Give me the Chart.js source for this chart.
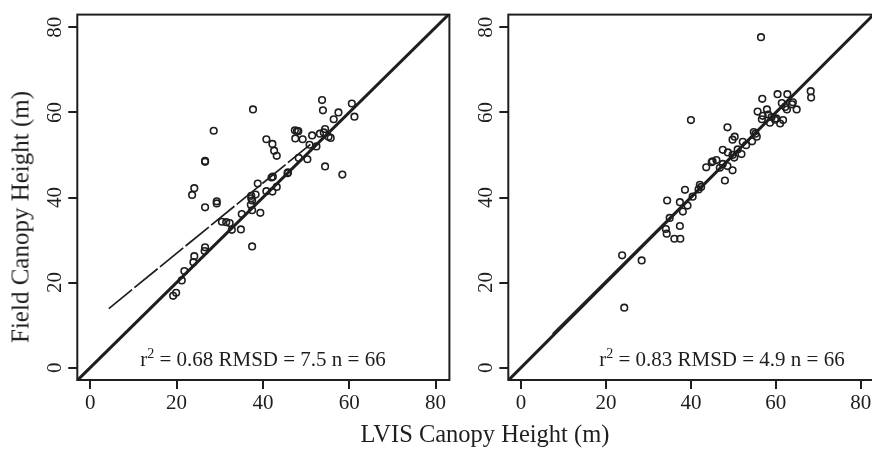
<!DOCTYPE html>
<html>
<head>
<meta charset="utf-8">
<script src="https://cdn.jsdelivr.net/npm/chart.js@4.4.1/dist/chart.umd.min.js"></script>
<style>
  html, body { margin: 0; padding: 0; background: #fff; }
  body { width: 872px; height: 449px; overflow: hidden; position: relative; font-family: "Liberation Serif", serif; color: #1e1e1e; }
  .panel { position: absolute; top: 0; height: 449px; }
  #leftPanel { left: 0; width: 460px; }
  #rightPanel { left: 460px; width: 420px; }
  .title { position: absolute; white-space: nowrap; line-height: 1; }
  #xTitle { left: 485px; top: 422px; font-size: 24.5px; transform: translateX(-50%); }
  #yTitle { left: 20px; top: 217px; font-size: 25px; transform: translate(-50%, -50%) rotate(-90deg); }
</style>
</head>
<body>
<div class="panel" id="leftPanel"><canvas id="chart_leftCanopy"></canvas></div>
<div class="panel" id="rightPanel"><canvas id="chart_rightCanopy"></canvas></div>
<div class="title" id="xTitle">LVIS Canopy Height (m)</div>
<div class="title" id="yTitle">Field Canopy Height (m)</div>
<script>
// axis ticks
var tickValues = [0, 20, 40, 60, 80];

// left panel: LVIS vs field heights
var leftLvis = [
  53.7, 53.9, 37.7, 60.6, 61.2, 57.5, 56.4, 28.6, 47.4, 47.9, 48.2, 47.5, 49.2, 51.4, 53.2, 54.4, 54.1,
  55.2, 55.7, 50.8, 52.4, 40.8, 42.2, 42.6, 43.2, 50.3, 48.3, 54.4, 58.4, 26.6, 26.6, 45.7, 45.8, 42.0,
  42.3, 38.8, 24.1, 23.6, 40.8, 43.2, 42.2, 38.3, 37.3, 37.3, 29.3, 29.3, 26.6, 37.5, 37.2, 37.5, 39.4,
  35.1, 30.5, 31.5, 32.3, 32.8, 34.9, 37.5, 26.6, 26.5, 24.1, 23.9, 21.8, 21.2, 19.9, 19.2
];
var leftField = [
  62.9, 60.5, 60.7, 62.1, 59.0, 60.0, 58.4, 55.7, 55.8, 55.7, 55.6, 53.9, 53.7, 54.6, 55.0, 56.1, 55.3,
  54.3, 54.0, 52.4, 52.0, 53.7, 52.6, 51.0, 49.8, 49.0, 49.3, 47.3, 45.4, 48.6, 48.4, 45.7, 45.9, 44.7,
  44.9, 43.3, 42.2, 40.6, 41.5, 42.5, 41.4, 40.7, 40.4, 39.8, 39.1, 38.6, 37.7, 39.3, 38.3, 37.0, 36.4,
  36.1, 34.3, 34.2, 34.0, 32.4, 32.5, 28.5, 28.3, 27.4, 26.2, 24.8, 22.7, 20.5, 17.6, 16.9
];
var leftFitX = [4.3, 51.0];
var leftFitY = [13.9, 52.5];

// right panel
var rightLvis = [
  56.5, 40.0, 60.4, 62.7, 68.2, 68.3, 56.8, 61.4, 64.0, 57.9, 55.7, 62.6, 64.9, 56.9, 56.7, 59.0, 59.8,
  58.6, 61.0, 61.7, 63.8, 48.6, 54.8, 55.5, 54.4, 50.3, 49.8, 52.2, 47.5, 48.7, 49.8, 51.0, 51.9, 50.2,
  43.6, 45.1, 46.0, 47.5, 48.6, 49.8, 48.0, 42.1, 41.8, 38.6, 40.4, 34.4, 37.4, 39.2, 38.1, 34.1, 34.3,
  37.4, 36.1, 37.5, 23.8, 28.4, 24.3, 44.9, 53.0, 55.2, 58.2, 60.1, 62.2, 46.8, 42.4, 35.0
];
var rightField = [
  77.7, 58.2, 64.3, 64.3, 65.0, 63.5, 63.2, 62.2, 62.4, 60.7, 60.2, 60.7, 60.7, 59.2, 58.4, 58.9, 58.3,
  57.6, 57.4, 58.2, 61.9, 56.5, 55.4, 54.3, 53.2, 54.3, 53.6, 53.1, 51.2, 50.6, 50.0, 51.3, 50.2, 49.4,
  47.1, 48.5, 48.8, 47.9, 47.4, 46.4, 44.0, 43.0, 41.9, 41.8, 40.2, 39.3, 38.9, 38.1, 36.7, 32.6, 31.5,
  33.3, 30.3, 30.3, 26.4, 25.2, 14.1, 48.3, 52.3, 55.0, 59.5, 58.6, 61.3, 47.0, 42.5, 35.2
];
var rightFitX = [7.4, 68.3];
var rightFitY = [8.0, 68.3];

// 1:1 line ends and fit statistics
var oneToOne = [-3, 83.2];
var statR2 = [0.68, 0.83];
var statRmsd = [7.5, 4.9];
var statN = [66, 66];

var ink = '#1e1e1e';
var serif = 'Liberation Serif';

function pairs(xs, ys) {
  return xs.map(function (x, i) { return { x: x, y: ys[i] }; });
}

var framePlugin = {
  id: 'frame',
  afterDatasetsDraw: function (chart) {
    var a = chart.chartArea;
    var ctx = chart.ctx;
    ctx.save();
    ctx.strokeStyle = ink;
    ctx.lineWidth = 2;
    ctx.strokeRect(a.left, a.top, a.right - a.left, a.bottom - a.top);
    ctx.restore();
  }
};

// r^2 / RMSD / n line inside each panel
var statsPlugin = {
  id: 'stats',
  afterDraw: function (chart, args, opts) {
    var ctx = chart.ctx;
    var px = chart.scales.x.getPixelForValue(opts.x);
    var py = chart.scales.y.getPixelForValue(opts.y);
    var main = '21px "' + serif + '"';
    var sup = '14px "' + serif + '"';
    var rest = ' = ' + opts.r2.toFixed(2) + ' RMSD = ' + opts.rmsd.toFixed(1) + ' n = ' + opts.n;
    ctx.save();
    ctx.fillStyle = ink;
    ctx.textBaseline = 'alphabetic';
    ctx.font = main;
    var wR = ctx.measureText('r').width;
    var wRest = ctx.measureText(rest).width;
    ctx.font = sup;
    var w2 = ctx.measureText('2').width;
    var x0 = px - (wR + w2 + wRest) / 2;
    ctx.font = main;
    ctx.fillText('r', x0, py);
    ctx.font = sup;
    ctx.fillText('2', x0 + wR, py - 8);
    ctx.font = main;
    ctx.fillText(rest, x0 + wR + w2, py);
    ctx.restore();
  }
};

function panelConfig(lvis, field, fitX, fitY, idx, yWidth, padRight, statX, fitWidth, fitDash) {
  return {
    type: 'scatter',
    data: {
      datasets: [
        {
          label: 'plots',
          data: pairs(lvis, field),
          pointStyle: 'circle',
          pointRadius: 3.3,
          pointBorderWidth: 1.6,
          borderColor: ink,
          backgroundColor: 'rgba(0,0,0,0)'
        },
        {
          label: '1:1',
          data: pairs(oneToOne, oneToOne),
          showLine: true,
          borderColor: ink,
          borderWidth: 3,
          pointRadius: 0
        },
        {
          label: 'fit',
          data: pairs(fitX, fitY),
          showLine: true,
          borderColor: ink,
          borderWidth: fitWidth,
          borderDash: fitDash,
          pointRadius: 0
        }
      ]
    },
    options: {
      animation: false,
      responsive: true,
      maintainAspectRatio: false,
      layout: { padding: { left: 0, right: padRight, top: 13.3, bottom: 0 } },
      plugins: {
        legend: { display: false },
        tooltip: { enabled: false },
        stats: { x: statX, y: 0.3, r2: statR2[idx], rmsd: statRmsd[idx], n: statN[idx] }
      },
      scales: {
        x: {
          type: 'linear',
          min: oneToOne[0],
          max: oneToOne[1],
          afterBuildTicks: function (s) { s.ticks = tickValues.map(function (v) { return { value: v }; }); },
          afterFit: function (s) { s.height = 69; },
          border: { display: false },
          grid: { drawOnChartArea: false, drawTicks: true, tickLength: 9, color: ink, lineWidth: 2 },
          ticks: { autoSkip: false, maxRotation: 0, padding: 2, color: ink, font: { family: serif, size: 21 } }
        },
        y: {
          type: 'linear',
          min: -2.9,
          max: 83,
          afterBuildTicks: function (s) { s.ticks = tickValues.map(function (v) { return { value: v }; }); },
          afterFit: function (s) { s.width = yWidth; },
          border: { display: false },
          grid: { drawOnChartArea: false, drawTicks: true, tickLength: 9, color: ink, lineWidth: 2 },
          ticks: { autoSkip: false, minRotation: 90, maxRotation: 90, crossAlign: 'center', padding: 2, color: ink, font: { family: serif, size: 21 } }
        }
      }
    },
    plugins: [framePlugin, statsPlugin]
  };
}

var chart_leftCanopy = new Chart(document.getElementById('chart_leftCanopy'),
  panelConfig(leftLvis, leftField, leftFitX, leftFitY, 0, 77.3, 10.6, 40, 1.7, [30, 3]));
var chart_rightCanopy = new Chart(document.getElementById('chart_rightCanopy'),
  panelConfig(rightLvis, rightField, rightFitX, rightFitY, 1, 48.3, 2, 47.3, 1.2, []));
</script>
</body>
</html>
